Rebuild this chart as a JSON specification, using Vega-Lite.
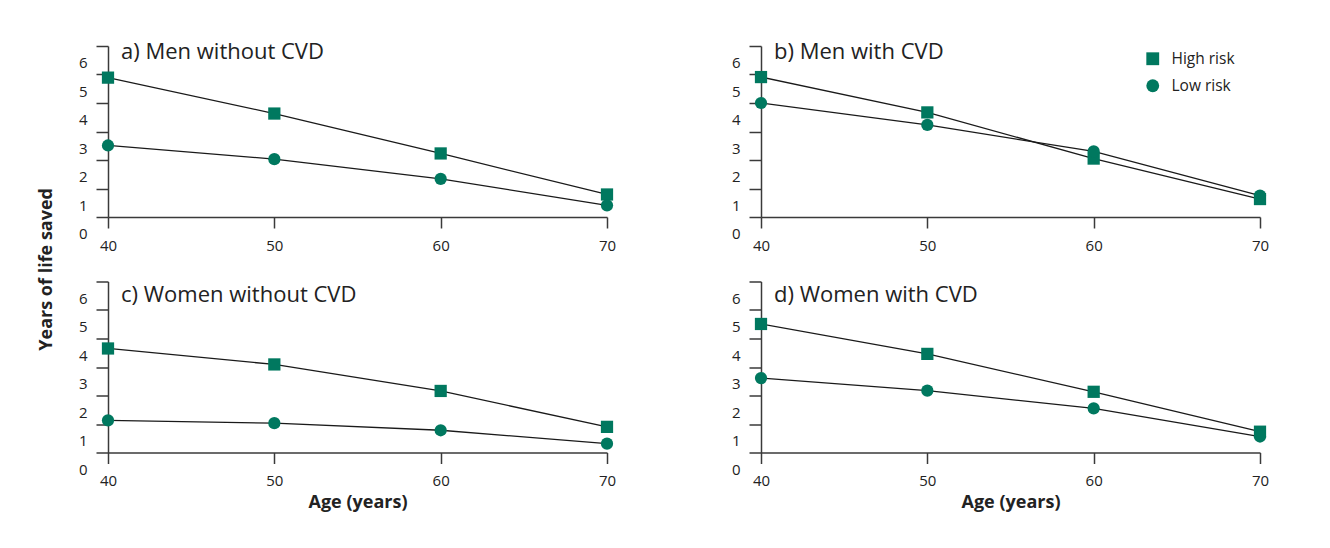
{
  "$schema": "https://vega.github.io/schema/vega-lite/v6.json",
  "background": "white",
  "padding": {"left": 38, "top": 41, "right": 5, "bottom": 5},
  "title": {"text": "Years of life saved", "orient": "left", "anchor": "middle", "fontSize": 18, "fontWeight": "bold", "font": "Open Sans", "color": "#222222", "offset": 22, "dx": 7},
  "datasets": {
    "d": [
      {"panel": "a", "age": 40, "risk": "High risk", "years": 4.89},
      {"panel": "a", "age": 50, "risk": "High risk", "years": 3.63},
      {"panel": "a", "age": 60, "risk": "High risk", "years": 2.23},
      {"panel": "a", "age": 70, "risk": "High risk", "years": 0.79},
      {"panel": "a", "age": 40, "risk": "Low risk", "years": 2.51},
      {"panel": "a", "age": 50, "risk": "Low risk", "years": 2.03},
      {"panel": "a", "age": 60, "risk": "Low risk", "years": 1.34},
      {"panel": "a", "age": 70, "risk": "Low risk", "years": 0.41},
      {"panel": "b", "age": 40, "risk": "High risk", "years": 4.91},
      {"panel": "b", "age": 50, "risk": "High risk", "years": 3.67},
      {"panel": "b", "age": 60, "risk": "High risk", "years": 2.05},
      {"panel": "b", "age": 70, "risk": "High risk", "years": 0.63},
      {"panel": "b", "age": 40, "risk": "Low risk", "years": 4.0},
      {"panel": "b", "age": 50, "risk": "Low risk", "years": 3.23},
      {"panel": "b", "age": 60, "risk": "Low risk", "years": 2.3},
      {"panel": "b", "age": 70, "risk": "Low risk", "years": 0.75},
      {"panel": "c", "age": 40, "risk": "High risk", "years": 3.65},
      {"panel": "c", "age": 50, "risk": "High risk", "years": 3.09},
      {"panel": "c", "age": 60, "risk": "High risk", "years": 2.16},
      {"panel": "c", "age": 70, "risk": "High risk", "years": 0.9},
      {"panel": "c", "age": 40, "risk": "Low risk", "years": 1.13},
      {"panel": "c", "age": 50, "risk": "Low risk", "years": 1.03},
      {"panel": "c", "age": 60, "risk": "Low risk", "years": 0.78},
      {"panel": "c", "age": 70, "risk": "Low risk", "years": 0.31},
      {"panel": "d", "age": 40, "risk": "High risk", "years": 4.51},
      {"panel": "d", "age": 50, "risk": "High risk", "years": 3.46},
      {"panel": "d", "age": 60, "risk": "High risk", "years": 2.13},
      {"panel": "d", "age": 70, "risk": "High risk", "years": 0.73},
      {"panel": "d", "age": 40, "risk": "Low risk", "years": 2.61},
      {"panel": "d", "age": 50, "risk": "Low risk", "years": 2.17},
      {"panel": "d", "age": 60, "risk": "Low risk", "years": 1.55},
      {"panel": "d", "age": 70, "risk": "Low risk", "years": 0.56}
    ]
  },
  "data": {"name": "d"},
  "columns": 2,
  "spacing": {"row": 27.5, "column": 115},
  "concat": [
    {
      "width": 499, "height": 171,
      "title": {"text": "a) Men without CVD", "anchor": "start", "frame": "group", "offset": -12.6, "baseline": "alphabetic", "dx": 13, "dy": 23.3},
      "transform": [{"filter": "datum.panel == 'a'"}],
      "encoding": {
        "x": {"field": "age", "type": "quantitative", "scale": {"domain": [40, 70], "nice": false, "zero": false}, "axis": {"values": [40, 50, 60, 70], "title": null}},
        "y": {"field": "years", "type": "quantitative", "scale": {"domain": [0, 6], "nice": false}, "axis": {"values": [0, 1, 2, 3, 4, 5, 6], "title": null}}
      },
      "layer": [
        {"mark": {"type": "line", "color": "#1a1a1a", "strokeWidth": 1.3}, "encoding": {"detail": {"field": "risk"}}},
        {"mark": {"type": "point", "filled": true, "opacity": 1, "color": "#00785F", "size": 150}, "encoding": {"shape": {"field": "risk", "type": "nominal", "scale": {"domain": ["High risk", "Low risk"], "range": ["square", "circle"]}, "legend": null}}}
      ]
    },
    {
      "width": 499, "height": 171,
      "title": {"text": "b) Men with CVD", "anchor": "start", "frame": "group", "offset": -12.6, "baseline": "alphabetic", "dx": 13, "dy": 23.3},
      "transform": [{"filter": "datum.panel == 'b'"}],
      "encoding": {
        "x": {"field": "age", "type": "quantitative", "scale": {"domain": [40, 70], "nice": false, "zero": false}, "axis": {"values": [40, 50, 60, 70], "title": null}},
        "y": {"field": "years", "type": "quantitative", "scale": {"domain": [0, 6], "nice": false}, "axis": {"values": [0, 1, 2, 3, 4, 5, 6], "title": null}}
      },
      "layer": [
        {"mark": {"type": "line", "color": "#1a1a1a", "strokeWidth": 1.3}, "encoding": {"detail": {"field": "risk"}}},
        {"mark": {"type": "point", "filled": true, "opacity": 1, "color": "#00785F", "size": 150}, "encoding": {"shape": {"field": "risk", "type": "nominal", "scale": {"domain": ["High risk", "Low risk"], "range": ["square", "circle"]}, "legend": {"title": null, "orient": "none", "legendX": 384, "legendY": 5, "padding": 0, "labelFontSize": 15.5, "labelFont": "Open Sans", "labelColor": "#222222", "symbolSize": 165, "labelOffset": 11, "rowPadding": 10, "symbolFillColor": "#00785F", "symbolStrokeWidth": 0, "symbolOpacity": 1}}}}
      ]
    },
    {
      "width": 499, "height": 171,
      "title": {"text": "c) Women without CVD", "anchor": "start", "frame": "group", "offset": -19.3, "baseline": "alphabetic", "dx": 13, "dy": 24},
      "transform": [{"filter": "datum.panel == 'c'"}],
      "encoding": {
        "x": {"field": "age", "type": "quantitative", "scale": {"domain": [40, 70], "nice": false, "zero": false}, "axis": {"values": [40, 50, 60, 70], "title": "Age (years)"}},
        "y": {"field": "years", "type": "quantitative", "scale": {"domain": [0, 6], "nice": false}, "axis": {"values": [0, 1, 2, 3, 4, 5, 6], "title": null}}
      },
      "layer": [
        {"mark": {"type": "line", "color": "#1a1a1a", "strokeWidth": 1.3}, "encoding": {"detail": {"field": "risk"}}},
        {"mark": {"type": "point", "filled": true, "opacity": 1, "color": "#00785F", "size": 150}, "encoding": {"shape": {"field": "risk", "type": "nominal", "scale": {"domain": ["High risk", "Low risk"], "range": ["square", "circle"]}, "legend": null}}}
      ]
    },
    {
      "width": 499, "height": 171,
      "title": {"text": "d) Women with CVD", "anchor": "start", "frame": "group", "offset": -19.3, "baseline": "alphabetic", "dx": 13, "dy": 24},
      "transform": [{"filter": "datum.panel == 'd'"}],
      "encoding": {
        "x": {"field": "age", "type": "quantitative", "scale": {"domain": [40, 70], "nice": false, "zero": false}, "axis": {"values": [40, 50, 60, 70], "title": "Age (years)"}},
        "y": {"field": "years", "type": "quantitative", "scale": {"domain": [0, 6], "nice": false}, "axis": {"values": [0, 1, 2, 3, 4, 5, 6], "title": null}}
      },
      "layer": [
        {"mark": {"type": "line", "color": "#1a1a1a", "strokeWidth": 1.3}, "encoding": {"detail": {"field": "risk"}}},
        {"mark": {"type": "point", "filled": true, "opacity": 1, "color": "#00785F", "size": 150}, "encoding": {"shape": {"field": "risk", "type": "nominal", "scale": {"domain": ["High risk", "Low risk"], "range": ["square", "circle"]}, "legend": null}}}
      ]
    }
  ],
  "resolve": {"scale": {"shape": "independent"}, "legend": {"shape": "independent"}},
  "config": {
    "font": "Open Sans",
    "view": {"stroke": null},
    "axis": {"grid": false, "domainColor": "#3a3a3a", "tickColor": "#3a3a3a", "domainWidth": 1.5, "tickWidth": 1.5, "labelColor": "#222222", "labelFont": "Open Sans", "labelFontSize": 15, "labelFlush": false, "titleFont": "Open Sans", "titleFontSize": 18, "titleFontWeight": "bold", "titleColor": "#222222"},
    "axisX": {"tickSize": 11, "labelPadding": 10, "titlePadding": 5},
    "axisY": {"tickSize": 12, "labelPadding": 9, "labelOffset": 16.5},
    "title": {"font": "Open Sans", "fontSize": 22, "fontWeight": "normal", "color": "#222222"}
  }
}
